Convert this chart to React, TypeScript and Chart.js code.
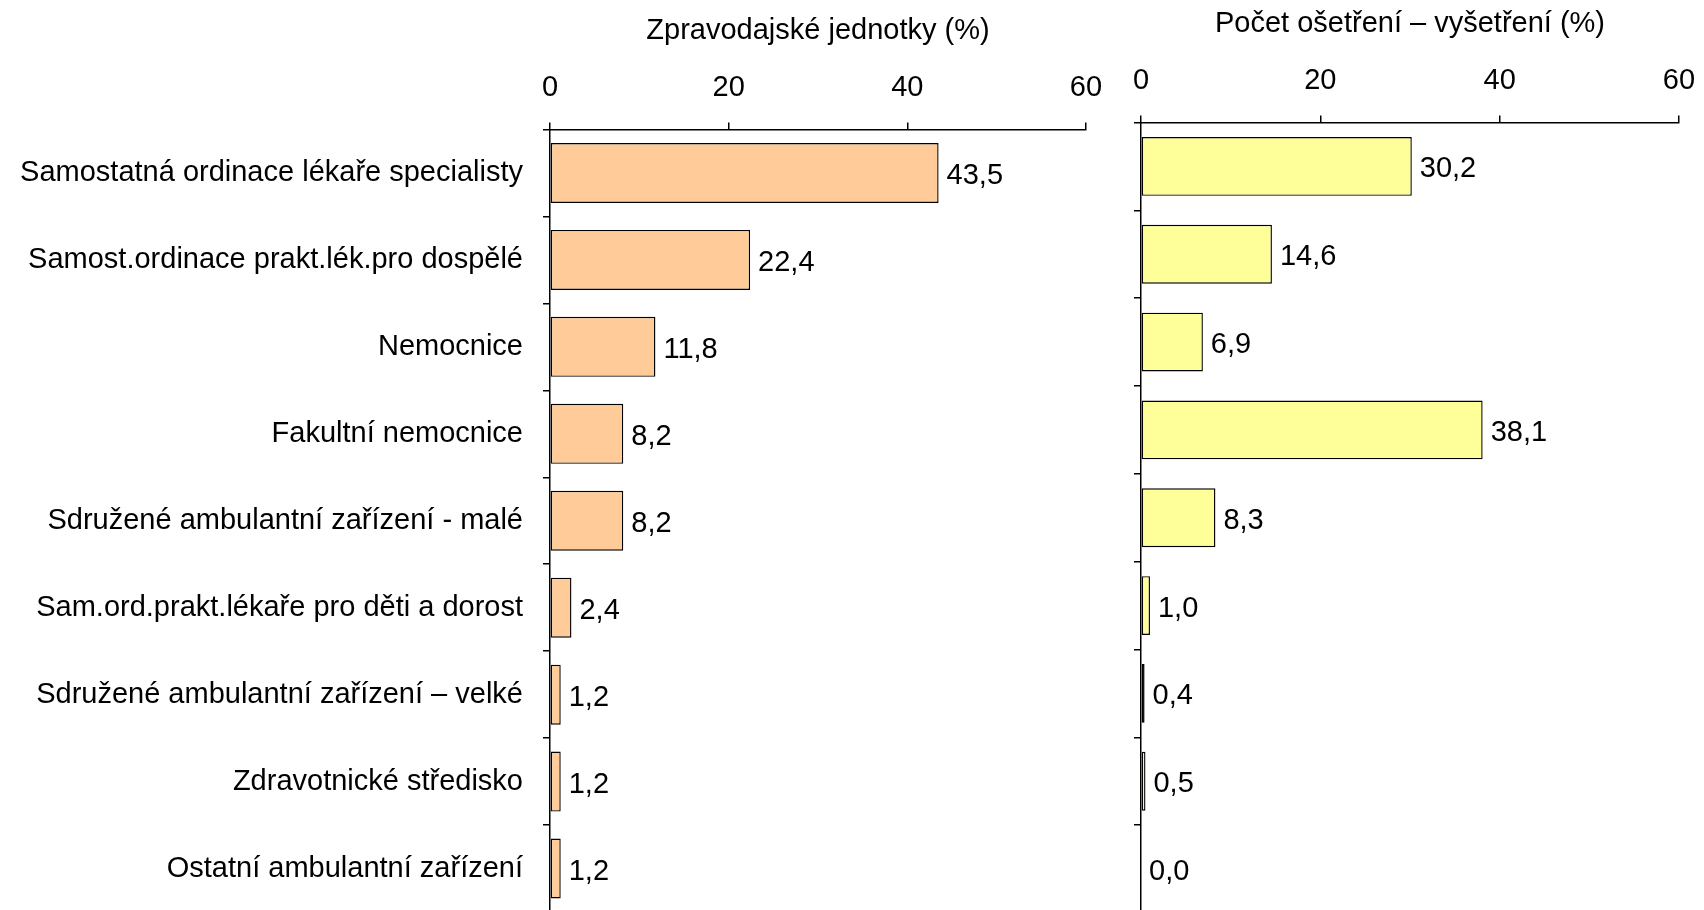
import React, { useEffect, useRef } from "react";
import { Chart, registerables } from "chart.js";

Chart.register(...registerables);

const categories = [
  "Samostatná ordinace lékaře specialisty",
  "Samost.ordinace prakt.lék.pro dospělé",
  "Nemocnice",
  "Fakultní nemocnice",
  "Sdružené ambulantní zařízení - malé",
  "Sam.ord.prakt.lékaře pro děti a dorost",
  "Sdružené ambulantní zařízení – velké",
  "Zdravotnické středisko",
  "Ostatní ambulantní zařízení",
];

const unitsValues = [43.5, 22.4, 11.8, 8.2, 8.2, 2.4, 1.2, 1.2, 1.2];
const treatmentsValues = [30.2, 14.6, 6.9, 38.1, 8.3, 1.0, 0.4, 0.5, 0.0];

const leftTitle = "Zpravodajské jednotky (%)";
const rightTitle = "Počet ošetření – vyšetření (%)";

const FONT = "'Liberation Sans', Arial, sans-serif";

const valueLabels = {
  id: "valueLabels",
  afterDatasetsDraw(chart: any) {
    const ctx = chart.ctx;
    ctx.save();
    ctx.font = `29px ${FONT}`;
    ctx.fillStyle = "#000";
    ctx.textAlign = "left";
    ctx.textBaseline = "middle";
    chart.data.datasets.forEach((ds: any, di: number) => {
      const meta = chart.getDatasetMeta(di);
      meta.data.forEach((bar: any, i: number) => {
        const v = ds.data[i] as number;
        ctx.fillText(v.toFixed(1).replace(".", ","), bar.x + 8, bar.y + 3);
      });
    });
    ctx.restore();
  },
};

function makeChart(
  canvas: HTMLCanvasElement,
  values: number[],
  title: string,
  color: string,
  showLabels: boolean,
  yWidth: number,
  padRight: number,
  barPct: number
) {
  return new Chart(canvas, {
    type: "bar",
    data: {
      labels: categories,
      datasets: [
        {
          data: values,
          backgroundColor: color,
          borderColor: "#000",
          borderWidth: 1.4,
          borderSkipped: false,
          categoryPercentage: 1,
          barPercentage: barPct,
        },
      ],
    },
    options: {
      indexAxis: "y",
      animation: false,
      responsive: false,
      maintainAspectRatio: false,
      layout: { padding: { left: 0, right: padRight, top: 0, bottom: 0 } },
      plugins: {
        legend: { display: false },
        tooltip: { enabled: false },
        title: { display: false },
      },
      scales: {
        x: {
          position: "top",
          min: 0,
          max: 60,
          ticks: {
            stepSize: 20,
            color: "#000",
            font: { family: FONT, size: 29 },
            padding: 17,
          },
          grid: {
            display: true,
            drawOnChartArea: false,
            drawTicks: true,
            tickLength: 7,
            color: "#000",
            lineWidth: 1.5,
          },
          border: { display: true, color: "#000", width: 1.5 },
          title: {
            display: true,
            text: title,
            color: "#000",
            font: { family: FONT, size: 29 },
            padding: { top: 14, bottom: 0 },
          },
          afterFit(scale: any) {
            scale.height = 129.5;
            scale.paddingLeft = 0;
            scale.paddingRight = 0;
          },
        },
        y: {
          ticks: {
            display: showLabels,
            color: "#000",
            font: { family: FONT, size: 29 },
            padding: 20,
          },
          grid: {
            display: true,
            offset: true,
            drawOnChartArea: false,
            drawTicks: true,
            tickLength: 7,
            color: "#000",
            lineWidth: 1.5,
          },
          border: { display: true, color: "#000", width: 1.5 },
          afterFit(scale: any) {
            scale.width = yWidth;
            scale.paddingTop = 0;
            scale.paddingBottom = 0;
          },
        },
      },
    },
    plugins: [valueLabels],
  } as any);
}

export default function App() {
  const leftRef = useRef<HTMLCanvasElement>(null);
  const rightRef = useRef<HTMLCanvasElement>(null);

  useEffect(() => {
    const c1 = makeChart(leftRef.current!, unitsValues, leftTitle, "#FFCC99", true, 550, 24, 0.69);
    const c2 = makeChart(rightRef.current!, treatmentsValues, rightTitle, "#FFFF99", false, 31, 25, 0.67);
    return () => {
      c1.destroy();
      c2.destroy();
    };
  }, []);

  return (
    <div
      style={{
        position: "fixed",
        left: 0,
        top: 0,
        width: 1704,
        height: 910,
        overflow: "hidden",
        background: "#fff",
      }}
    >
      <canvas
        ref={leftRef}
        width={1110}
        height={912}
        style={{ position: "absolute", left: 0, top: 0, width: 1110, height: 912 }}
      />
      <canvas
        ref={rightRef}
        width={594}
        height={920}
        style={{ position: "absolute", left: 1110, top: -7, width: 594, height: 920 }}
      />
    </div>
  );
}
